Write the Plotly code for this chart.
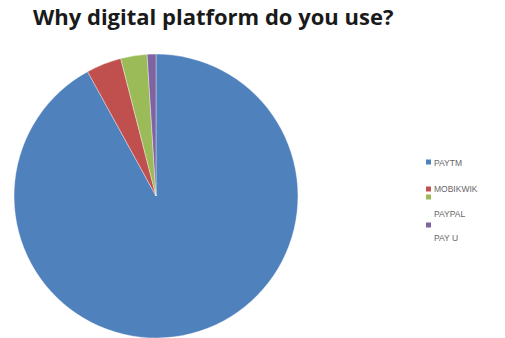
import plotly.graph_objects as go

labels = ["PAYTM", "MOBIKWIK", "PAYPAL", "PAY U"]
values = [92, 4, 3, 1]
colors = ["#4F81BD", "#C0504D", "#9BBB59", "#8064A2"]

W, H = 505, 338

fig = go.Figure(go.Pie(
    labels=labels, values=values, sort=False, direction="clockwise", rotation=0,
    marker=dict(colors=colors, line=dict(color="rgba(255,255,255,0.6)", width=0.6)),
    textinfo="none", hoverinfo="label+value", showlegend=False,
    domain=dict(x=[13 / W, 299 / W], y=[0, 0.84]),
))

# manual legend (positions in pixels, converted to paper coords)
text_y = [163, 189, 214, 238]
mark_y = [162, 189, 197, 225]
shapes = []
annotations = []
for lab, col, ty, my in zip(labels, colors, text_y, mark_y):
    shapes.append(dict(type="rect", xref="paper", yref="paper",
                       x0=426 / W, x1=431 / W, y0=1 - (my + 2.5) / H, y1=1 - (my - 2.5) / H,
                       fillcolor=col, line=dict(width=0)))
    annotations.append(dict(text=lab, xref="paper", yref="paper", x=432 / W, y=1 - ty / H,
                            xanchor="left", yanchor="middle", showarrow=False,
                            font=dict(family="Liberation Sans, Arial", size=8.5, color="#666666")))

annotations.append(dict(text="<b>Why digital platform do you use?</b>", xref="paper", yref="paper",
                        x=31 / W, y=1 - 16 / H, xanchor="left", yanchor="middle", showarrow=False,
                        font=dict(family="Open Sans, sans-serif", size=22, color="#1a1a1a")))

fig.update_layout(
    width=W, height=H, margin=dict(l=0, r=0, t=0, b=0),
    paper_bgcolor="white", plot_bgcolor="white",
    shapes=shapes, annotations=annotations,
)

fig.write_html("out.html")
